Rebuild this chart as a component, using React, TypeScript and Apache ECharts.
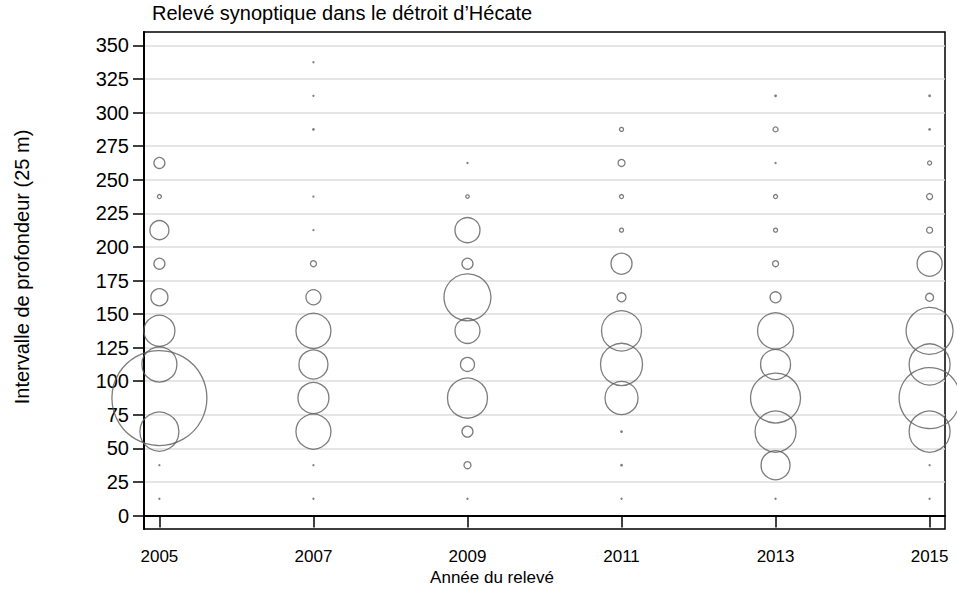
import React, { useEffect, useRef } from "react";
import * as echarts from "echarts";

const title = "Relevé synoptique dans le détroit d’Hécate";
const xTitle = "Année du relevé";
const yTitle = "Intervalle de profondeur (25 m)";

const years = [2005, 2007, 2009, 2011, 2013, 2015];
const depthBins = [12.5, 37.5, 62.5, 87.5, 112.5, 137.5, 162.5, 187.5, 212.5, 237.5, 262.5, 287.5, 312.5, 337.5];
const yTicks = [0, 25, 50, 75, 100, 125, 150, 175, 200, 225, 250, 275, 300, 325, 350];

// relative catch per depth bin (bubble area), null = none
const v2005 = [0.01, 0.01, 16, 92.16, 12.96, 10.24, 3.24, 1.44, 4, 0.25, 1.44, null, null, null];
const v2007 = [0.01, 0.01, 12.96, 10.24, 9, 12.96, 2.56, 0.49, 0.01, 0.01, null, 0.06, 0.01, 0.02];
const v2009 = [0.01, 0.64, 1.44, 16.81, 2.25, 6.76, 23.04, 1.44, 6.76, 0.2, 0.01, null, null, null];
const v2011 = [0.01, 0.06, 0.06, 11.56, 18.49, 16.81, 1, 4.84, 0.25, 0.25, 0.64, 0.25, null, null];
const v2013 = [0.01, 9, 17.64, 26.01, 9.61, 13.69, 1.44, 0.49, 0.25, 0.25, 0.02, 0.36, 0.06, null];
const v2015 = [0.01, 0.04, 17.64, 38.44, 17.64, 23.04, 0.81, 6.76, 0.49, 0.49, 0.25, 0.06, 0.06, null];

const valuesByYear = [v2005, v2007, v2009, v2011, v2013, v2015];

const FONT = "Liberation Sans, Arial, sans-serif";

export default function App() {
  const ref = useRef<HTMLDivElement>(null);
  useEffect(() => {
    if (!ref.current) return;
    const chart = echarts.init(ref.current, undefined, { renderer: "svg" });
    const data: number[][] = [];
    years.forEach((yr, i) => {
      valuesByYear[i].forEach((v, j) => {
        if (v !== null && v !== undefined) data.push([yr, depthBins[j], v as number]);
      });
    });
    chart.setOption({
      animation: false,
      backgroundColor: "#fff",
      textStyle: { fontFamily: FONT },
      grid: {
        left: 144,
        top: 32,
        width: 801,
        height: 497,
        show: true,
        borderColor: "#000",
        borderWidth: 1.5,
        backgroundColor: "transparent",
      },
      xAxis: {
        type: "value",
        min: 2004.8,
        max: 2015.2,
        axisLine: { show: true, lineStyle: { color: "#000", width: 2 } },
        axisTick: { show: true, length: 12, customValues: years, lineStyle: { color: "#000", width: 1.5 } },
        axisLabel: {
          customValues: years,
          formatter: (v: number) => String(v),
          fontSize: 17,
          color: "#000",
          margin: 19,
          fontFamily: FONT,
        },
        splitLine: { show: false },
      },
      yAxis: {
        type: "value",
        min: -10,
        max: 360,
        axisLine: { show: true, lineStyle: { color: "#000", width: 2 } },
        axisTick: { show: true, length: 11, customValues: yTicks, lineStyle: { color: "#000", width: 1.5 } },
        axisLabel: {
          customValues: yTicks,
          formatter: (v: number) => String(v),
          fontSize: 20,
          color: "#000",
          margin: 15,
          fontFamily: FONT,
        },
        splitLine: { show: true, lineStyle: { color: "#dcdcdc", width: 1.5 } },
      },
      graphic: [
        {
          type: "text",
          left: 152,
          top: 3,
          style: { text: title, fontSize: 20, fill: "#000", fontFamily: FONT },
        },
        {
          type: "text",
          x: 492,
          y: 577,
          style: { text: xTitle, fontSize: 17, fill: "#000", fontFamily: FONT, align: "center", verticalAlign: "middle" },
        },
        {
          type: "text",
          x: 22,
          y: 267,
          rotation: Math.PI / 2,
          style: { text: yTitle, fontSize: 20, fill: "#000", fontFamily: FONT, align: "center", verticalAlign: "middle" },
        },
      ],
      series: [
        {
          type: "scatter",
          data,
          clip: false,
          symbol: "circle",
          symbolSize: (d: number[]) => Math.max(1, Math.sqrt(d[2]) * 10 - 1),
          itemStyle: { color: "rgba(0,0,0,0)", borderColor: "#5c5c5c", borderWidth: 1.3 },
        },
      ],
    });
    return () => chart.dispose();
  }, []);
  return <div ref={ref} style={{ position: "fixed", left: 0, top: 0, width: 957, height: 615 }} />;
}
